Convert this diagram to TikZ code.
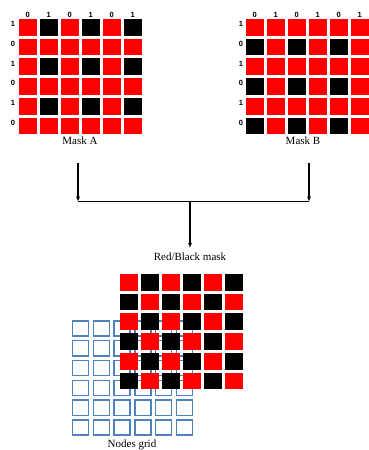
\documentclass[tikz,border=0pt]{standalone}
\usepackage{fontspec}
\setmainfont{Liberation Serif}
\newfontfamily\bitfont{Liberation Sans}
\usetikzlibrary{arrows.meta}
\begin{document}
\begin{tikzpicture}[x=1pt, y=-1pt,
    cell/.style={rectangle, minimum width=17.5pt, minimum height=16.7pt, inner sep=0pt, fill=red},
    hole/.style={cell, fill=black},
    gridcell/.style={rectangle, minimum width=16pt, minimum height=15.2pt, inner sep=0pt, draw=gridblue, line width=1.5pt},
    bit/.style={font=\bitfont\bfseries\fontsize{7.5}{8}\selectfont, inner sep=0pt},
    caption/.style={font=\fontsize{11}{13}\selectfont, inner sep=0pt},
    link/.style={line width=1.2pt},
    flow/.style={link, -{Latex[length=5pt,width=4pt]}}
]
\definecolor{gridblue}{RGB}{79,129,189}
\useasboundingbox (0,0) rectangle (368,450);

% ---- mask A ----
\foreach \c in {1,...,6} {
  \pgfmathtruncatemacro{\b}{1-mod(\c,2)}
  \node[bit] (atop-\c) at ({27.75+21*(\c-1)}, 15) {\b};
}
\foreach \r in {1,...,6} {
  \pgfmathtruncatemacro{\b}{mod(\r,2)}
  \node[bit] (aleft-\r) at (13, {24.3+19.7*(\r-1)}) {\b};
  \foreach \c in {1,...,6} {
    \pgfmathtruncatemacro{\k}{mod(\r,2)*(1-mod(\c,2))}
    \ifnum\k=1 \def\sty{hole}\else\def\sty{cell}\fi
    \node[\sty] (a-\r-\c) at ({27.75+21*(\c-1)}, {27.35+19.7*(\r-1)}) {};
  }
}
\node[caption] (maskA) at (80,141) {Mask A};

% ---- mask B ----
\foreach \c in {1,...,6} {
  \pgfmathtruncatemacro{\b}{1-mod(\c,2)}
  \node[bit] (btop-\c) at ({254.75+21*(\c-1)}, 15) {\b};
}
\foreach \r in {1,...,6} {
  \pgfmathtruncatemacro{\b}{mod(\r,2)}
  \node[bit] (bleft-\r) at (241, {24.3+19.7*(\r-1)}) {\b};
  \foreach \c in {1,...,6} {
    \pgfmathtruncatemacro{\k}{(1-mod(\r,2))*mod(\c,2)}
    \ifnum\k=1 \def\sty{hole}\else\def\sty{cell}\fi
    \node[\sty] (b-\r-\c) at ({254.75+21*(\c-1)}, {27.35+19.7*(\r-1)}) {};
  }
}
\node[caption] (maskB) at (303,141) {Mask B};

% ---- arrows ----
\coordinate (a0) at (78,163);
\coordinate (a1) at (78,201.7);
\coordinate (b0) at (309,163);
\coordinate (b1) at (309,201.7);
\coordinate (j) at (190,201.7);
\coordinate (j1) at (190,248);
\draw[flow] (a0) -- (a1);
\draw[flow] (b0) -- (b1);
\draw[link] (a1) -- (b1);
\draw[flow] (j) -- (j1);
\node[caption] (rb) at (190,257) {Red/Black mask};

% ---- nodes grid (behind) ----
\foreach \r in {1,...,6}
  \foreach \c in {1,...,6}
    \node[gridcell] (n-\r-\c) at ({80.5+20.8*(\c-1)}, {328.5+19.8*(\r-1)}) {};
\node[caption] (nodes) at (132,445) {Nodes grid};

% ---- red/black mask ----
\foreach \r in {1,...,6} {
  \foreach \c in {1,...,6} {
    \pgfmathtruncatemacro{\k}{mod(\r+\c,2)}
    \ifnum\k=1 \def\sty{hole}\else\def\sty{cell}\fi
    \node[\sty] (m-\r-\c) at ({128.75+21*(\c-1)}, {282.35+19.7*(\r-1)}) {};
  }
}

\end{tikzpicture}
\end{document}
